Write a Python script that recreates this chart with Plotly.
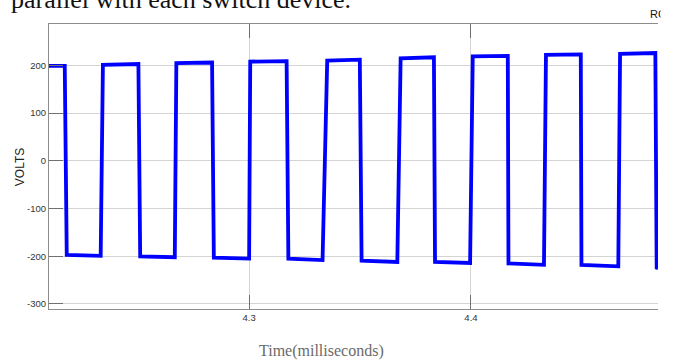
import plotly.graph_objects as go

# Vertices of the square wave (time in ms, volts)
time_ms = [4.2090, 4.2169, 4.2178, 4.2331, 4.2341, 4.2501, 4.2509, 4.2665,
           4.2672, 4.2833, 4.2841, 4.3000, 4.3005, 4.3169, 4.3177, 4.3331,
           4.3352, 4.3499, 4.3507, 4.3668, 4.3683, 4.3833, 4.3838, 4.3996,
           4.4008, 4.4166, 4.4169, 4.4329, 4.4338, 4.4495, 4.4498, 4.4664,
           4.4672, 4.4831, 4.4837, 4.4843]
volts = [199, 199, -197, -199, 201, 203, -200, -202,
         205, 206, -203, -205, 208, 209, -205, -208,
         210, 212, -209, -212, 215, 217, -212, -214,
         219, 220, -215, -218, 222, 223, -218, -221,
         224, 226, -224, -225]

x_ticks = [4.3, 4.4]
x_tick_labels = ["4.3", "4.4"]
y_ticks = [-300, -200, -100, 0, 100, 200]
y_tick_labels = ["-300", "-200", "-100", "0", "100", "200"]

L, R, T, B = 49, 16, 24, 53
W, H = 674, 362
pw = W - L - R
ph = H - T - B

def px(xp):
    return (xp - L) / pw

def py(yp):
    return (H - B - yp) / ph

fig = go.Figure()
fig.add_trace(go.Scatter(x=time_ms, y=volts, mode="lines",
                         line=dict(color="#0000ff", width=3.8),
                         hoverinfo="skip", showlegend=False))

fig.update_layout(
    width=W, height=H,
    margin=dict(l=L, r=R, t=T, b=B, pad=0),
    paper_bgcolor="white", plot_bgcolor="white",
    font=dict(family="Arial, Liberation Sans, sans-serif", color="#333333"),
    xaxis=dict(range=[4.2098, 4.4843], tickvals=x_ticks, ticktext=x_tick_labels,
               showgrid=True, gridcolor="#d4d4d4", gridwidth=1,
               showline=True, linecolor="#8c8c8c", linewidth=1, mirror="ticks",
               ticks="inside", ticklen=14, tickcolor="#707070", tickwidth=1,
               tickfont=dict(size=9.5, color="#333333"), zeroline=False),
    yaxis=dict(range=[-310.5, 286.8], tickvals=y_ticks, ticktext=y_tick_labels,
               showgrid=True, gridcolor="#d4d4d4", gridwidth=1,
               showline=True, linecolor="#8c8c8c", linewidth=1, mirror=False,
               ticks="inside", ticklen=14, tickcolor="#707070", tickwidth=1,
               tickfont=dict(size=9.5, color="#333333"), zeroline=False),
    annotations=[
        dict(text="VOLTS", x=px(19.5), y=py(166.7), xref="paper", yref="paper",
             showarrow=False, textangle=-90, xanchor="center", yanchor="middle",
             font=dict(size=12, color="#222222", family="Arial, Liberation Sans, sans-serif")),
        dict(text="Time(milliseconds)", x=px(321), y=py(351), xref="paper", yref="paper",
             showarrow=False, xanchor="center", yanchor="middle",
             font=dict(size=16, color="#6a6a6a", family="Liberation Serif, Times New Roman, serif")),
        dict(text="parallel with each switch device.", x=px(9), y=py(16), xref="paper", yref="paper",
             showarrow=False, xanchor="left", yanchor="bottom",
             font=dict(size=26, color="#111111", family="Liberation Serif, Times New Roman, serif")),
        dict(text="RC", x=px(648), y=py(14), xref="paper", yref="paper",
             showarrow=False, xanchor="left", yanchor="middle",
             font=dict(size=11, color="#111111", family="Arial, Liberation Sans, sans-serif")),
        dict(text=" ", x=px(660), y=py(14), xref="paper", yref="paper",
             showarrow=False, xanchor="left", yanchor="middle", width=14, height=22,
             bgcolor="white", borderpad=0, font=dict(size=10)),
    ],
)

fig.write_html("out.html", config={"displayModeBar": False},
               post_script="document.body.style.margin='0px';")
